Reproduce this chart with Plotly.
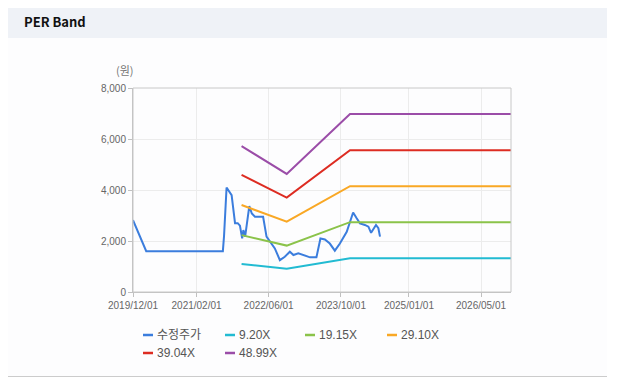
import plotly.graph_objects as go

# ---- data ----
price_dates = ["2019-12-01", "2020-02-28", "2021-07-28", "2021-08-05", "2021-08-22", "2021-09-25",
               "2021-10-18", "2021-11-05", "2021-11-20", "2021-12-05", "2021-12-13", "2021-12-25",
               "2022-01-22", "2022-02-08", "2022-03-01", "2022-04-25", "2022-05-18", "2022-06-09",
               "2022-07-13", "2022-08-16", "2022-09-18", "2022-10-22", "2022-11-15", "2022-12-18",
               "2023-01-21", "2023-03-07", "2023-04-19", "2023-05-16", "2023-06-15", "2023-07-18",
               "2023-08-21", "2023-09-24", "2023-11-09", "2023-12-22", "2024-01-15", "2024-02-06",
               "2024-03-10", "2024-04-03", "2024-04-21", "2024-05-24", "2024-06-09", "2024-06-20"]
price_vals = [2820, 1600, 1600, 2200, 4100, 3800,
              2700, 2700, 2600, 2100, 2430, 2170,
              3370, 3080, 2950, 2950, 2170, 1970,
              1710, 1250, 1380, 1580, 1450, 1520,
              1450, 1360, 1360, 2100, 2060, 1900,
              1620, 1900, 2360, 3120, 2890, 2690,
              2630, 2560, 2320, 2630, 2500, 2170]

band_dates = ["2021-12-01", "2022-10-01", "2023-12-01", "2026-11-19"]
band_920 = [1100, 910, 1320, 1320]
band_1915 = [2230, 1820, 2740, 2740]
band_2910 = [3410, 2760, 4150, 4150]
band_3904 = [4590, 3700, 5560, 5560]
band_4899 = [5720, 4630, 6980, 6980]

series_names = ["수정주가", "9.20X", "19.15X", "29.10X", "39.04X", "48.99X"]
series_colors = ["#3b7ddd", "#22bbd2", "#8bc34a", "#f9a825", "#dd2c22", "#9b4da8"]

x_tickvals = ["2019-12-01", "2021-02-01", "2022-06-01", "2023-10-01", "2025-01-01", "2026-05-01"]
x_ticktext = ["2019/12/01", "2021/02/01", "2022/06/01", "2023/10/01", "2025/01/01", "2026/05/01"]
y_tickvals = [0, 2000, 4000, 6000, 8000]
y_ticktext = ["0", "2,000", "4,000", "6,000", "8,000"]

W, H = 622, 387
OFF = 8  # page body margin
def px(x): return (x - OFF) / W
def py(y): return 1 - (y - OFF) / H

fig = go.Figure()
fig.add_trace(go.Scatter(x=price_dates, y=price_vals, mode="lines", name=series_names[0],
                         line=dict(color=series_colors[0], width=2)))
for name, vals, col in zip(series_names[1:], [band_920, band_1915, band_2910, band_3904, band_4899],
                           series_colors[1:]):
    fig.add_trace(go.Scatter(x=band_dates, y=vals, mode="lines", name=name,
                             line=dict(color=col, width=2)))

font_main = "Liberation Sans, Arial, Noto Sans CJK KR, sans-serif"

shapes = [
    # body panel
    dict(type="rect", xref="paper", yref="paper", x0=px(8), x1=px(607), y0=py(377), y1=py(38),
         fillcolor="#fdfdfe", line=dict(width=0), layer="below"),
    # header
    dict(type="rect", xref="paper", yref="paper", x0=px(8), x1=px(607), y0=py(38), y1=py(3.5),
         fillcolor="#eff2f7", line=dict(width=0), layer="below"),
    dict(type="line", xref="paper", yref="paper", x0=px(8), x1=px(607), y0=py(3.5), y1=py(3.5),
         line=dict(color="#cfd2d6", width=1.5), layer="below"),
    dict(type="line", xref="paper", yref="paper", x0=px(8), x1=px(607), y0=py(376.5), y1=py(376.5),
         line=dict(color="#cccccc", width=1), layer="below"),
    # plot border
    dict(type="rect", xref="x domain", yref="y domain", x0=0, x1=1, y0=0, y1=1,
         line=dict(color="#c8c8c8", width=1), fillcolor="rgba(0,0,0,0)"),
]

annotations = [
    dict(text="<b>PER Band</b>", xref="paper", yref="paper", x=px(22), y=py(21), xanchor="left",
         yanchor="middle", showarrow=False,
         font=dict(family="Noto Sans CJK KR, Noto Sans, sans-serif", size=13, color="#111111")),
    dict(text="(원)", xref="paper", yref="paper", x=px(125), y=py(70), xanchor="center",
         yanchor="middle", showarrow=False,
         font=dict(family="Noto Sans CJK KR, sans-serif", size=11, color="#777777")),
]

# custom legend
leg_pos = [(143, 335), (225, 335), (305, 335), (387, 335), (143, 353), (225, 353)]
for (lx, ly), name, col in zip(leg_pos, series_names, series_colors):
    shapes.append(dict(type="line", xref="paper", yref="paper", x0=px(lx), x1=px(lx + 10),
                       y0=py(ly), y1=py(ly), line=dict(color=col, width=2.5)))
    annotations.append(dict(text=name, xref="paper", yref="paper", x=px(lx + 12), y=py(ly),
                            xanchor="left", yanchor="middle", showarrow=False,
                            font=dict(family="Liberation Sans, Noto Sans CJK KR, sans-serif",
                                      size=12, color="#555555")))

fig.update_layout(
    width=W, height=H, autosize=False,
    margin=dict(l=0, r=0, t=0, b=0, pad=0),
    paper_bgcolor="#ffffff", plot_bgcolor="#ffffff",
    showlegend=False,
    shapes=shapes, annotations=annotations,
    xaxis=dict(type="date", domain=[px(133), px(511)], range=["2019-12-01", "2026-11-19"],
               automargin=False,
               tickvals=x_tickvals, ticktext=x_ticktext, showgrid=True, gridcolor="#ececec",
               gridwidth=1, showline=True, linecolor="#c0c0c0", ticks="outside", ticklen=4,
               tickcolor="#c0c0c0", zeroline=False,
               tickfont=dict(family=font_main, size=10, color="#666666")),
    yaxis=dict(domain=[py(292), py(88)], range=[0, 8000], tickvals=y_tickvals, ticktext=y_ticktext,
               automargin=False,
               showgrid=True, gridcolor="#ececec", gridwidth=1, showline=True, linecolor="#c0c0c0",
               ticks="outside", ticklen=4, tickcolor="#c0c0c0", zeroline=False,
               tickfont=dict(family=font_main, size=10, color="#666666")),
    hovermode=False,
)

fig.write_html("out.html")
